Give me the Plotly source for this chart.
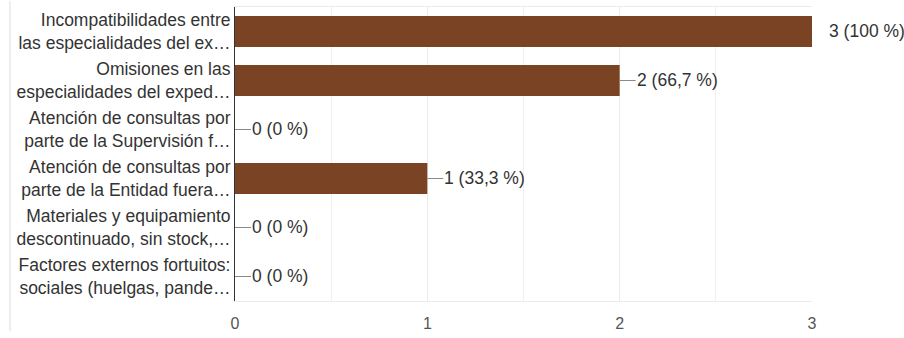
import plotly.graph_objects as go

categories = [
    "Incompatibilidades entre<br>las especialidades del ex…",
    "Omisiones en las<br>especialidades del exped…",
    "Atención de consultas por<br>parte de la Supervisión f…",
    "Atención de consultas por<br>parte de la Entidad fuera…",
    "Materiales y equipamiento<br>descontinuado, sin stock,…",
    "Factores externos fortuitos:<br>sociales (huelgas, pande…",
]
values = [3, 2, 0, 1, 0, 0]
labels = ["3 (100 %)", "2 (66,7 %)", "0 (0 %)", "1 (33,3 %)", "0 (0 %)", "0 (0 %)"]
x_ticks = [0, 1, 2, 3]

W, H = 904, 338
ML, MR, MT, MB = 235, 92, 6, 31
plot_w = W - ML - MR

bar_color = "#7a4424"
font_family = "Liberation Sans, Arial, sans-serif"

fig = go.Figure()
fig.add_trace(go.Bar(
    x=values, y=categories, orientation="h",
    marker=dict(color=bar_color, line=dict(width=0)),
    width=0.63, hoverinfo="skip",
))

shapes = []
annotations = []
for cat, v, lab in zip(categories, values, labels):
    shapes.append(dict(
        type="line", xref="x", yref="y", xsizemode="pixel", xanchor=v,
        x0=0, x1=16, y0=cat, y1=cat,
        line=dict(color="#8a8a8a" if v != 3 else "#dddddd", width=1),
    ))
    annotations.append(dict(
        x=v, y=cat, xref="x", yref="y", text=lab, showarrow=False,
        xanchor="left", yanchor="middle", xshift=15, yshift=1,
        font=dict(family=font_family, size=17.5, color="#333333"),
    ))

# card left border
shapes.append(dict(
    type="line", xref="paper", yref="paper",
    x0=(10 - ML) / plot_w, x1=(10 - ML) / plot_w, y0=-MB / (H - MT - MB), y1=1 + MT / (H - MT - MB),
    line=dict(color="#dddddd", width=1),
))

fig.update_layout(
    width=W, height=H,
    margin=dict(l=ML, r=MR, t=MT, b=MB, pad=0),
    paper_bgcolor="white", plot_bgcolor="white",
    showlegend=False,
    shapes=shapes, annotations=annotations,
    xaxis=dict(
        range=[0, 3], tickvals=x_ticks, ticktext=[str(t) for t in x_ticks],
        showgrid=True, gridcolor="#ebebeb", gridwidth=1,
        minor=dict(dtick=0.5, showgrid=True, gridcolor="#f0f0f0", gridwidth=1),
        zeroline=False, showline=True, mirror=True, linecolor="#ebebeb", linewidth=1,
        tickfont=dict(family=font_family, size=16, color="#555555"),
        ticks="", ticklabelstandoff=8,
    ),
    yaxis=dict(
        autorange="reversed", showgrid=False, zeroline=False,
        showline=True, linecolor="#333333", linewidth=1,
        tickfont=dict(family=font_family, size=17.5, color="#333333"),
        ticks="", ticklabelstandoff=0,
    ),
)

fig.write_html("out.html")
